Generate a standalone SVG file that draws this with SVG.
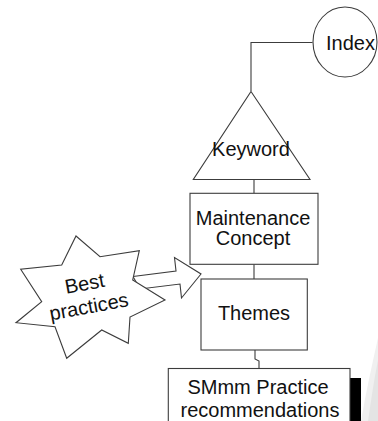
<svg xmlns="http://www.w3.org/2000/svg" width="378" height="421" viewBox="0 0 378 421">
  <style>
    .shape { fill: #ffffff; stroke: #3c3c3c; stroke-width: 1.1; }
    .conn { fill: none; stroke: #3c3c3c; stroke-width: 1.1; }
    .lbl { font-family: "Liberation Sans", Arial, sans-serif; font-size: 20px; fill: #111111; text-anchor: middle; }
  </style>
  <rect x="0" y="0" width="378" height="421" fill="#ffffff"/>
  <g id="background-swoosh">
    <path d="M378,338 C372,365 366,392 361,421 L378,421 Z" fill="#f0f0f0"/>
    <path d="M378,360 C374,380 371,400 368,421 L378,421 Z" fill="#e4e4e4"/>
  </g>
  <g id="connectors">
    <path class="conn" d="M312.5,42.5 H251 V91"/>
    <path class="conn" d="M265,174.3 H254 V193.3"/>
    <path class="conn" d="M254,264.3 V279"/>
    <path class="conn" d="M255,350 V359 L259,361 V368.5"/>
  </g>
  <g id="arrow">
    <polygon class="shape" points="133,276.5 176,271 174.5,257.5 201,274 181.5,298 180,284 140,289"/>
  </g>
  <g id="index">
    <ellipse class="shape" cx="345" cy="42" rx="32" ry="35"/>
    <text class="lbl" x="350.5" y="49.5">Index</text>
  </g>
  <g id="keyword">
    <polygon class="shape" points="251,91.5 310,179.5 193.3,179.5"/>
    <text class="lbl" x="251" y="156">Keyword</text>
  </g>
  <g id="maintenance-concept">
    <rect class="shape" x="190" y="193.3" width="128" height="71"/>
    <text class="lbl" x="253" y="225">Maintenance</text>
    <text class="lbl" x="253" y="245">Concept</text>
  </g>
  <g id="themes">
    <rect class="shape" x="201" y="279" width="106.3" height="71"/>
    <text class="lbl" x="254" y="320">Themes</text>
  </g>
  <g id="smmm-practice">
    <rect x="350" y="378" width="11" height="50" fill="#000000"/>
    <rect class="shape" x="168.3" y="368.5" width="181.7" height="60"/>
    <text class="lbl" x="258" y="393.5">SMmm Practice</text>
    <text class="lbl" x="260" y="416.5">recommendations</text>
  </g>
  <g id="best-practices">
    <polygon class="shape" points="76,236 100,256.7 139.3,250.7 132.7,280 165,300 130,317 128.3,343.3 101.7,330 66.7,358.3 55,326.7 16,322.7 41.7,301.7 20.7,269.3 61.7,265"/>
    <g transform="translate(88,302) rotate(-10.5)">
      <text class="lbl" x="0" y="-12">Best</text>
      <text class="lbl" x="0" y="11.5">practices</text>
    </g>
  </g>
</svg>
